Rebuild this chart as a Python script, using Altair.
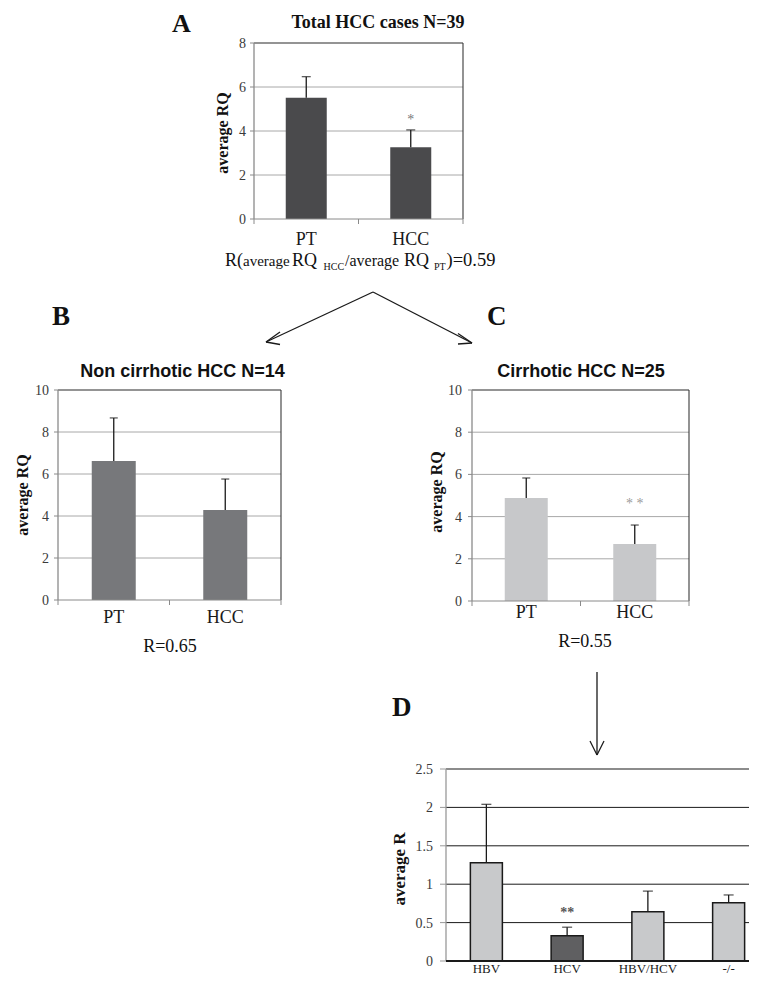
import altair as alt
import pandas as pd

# ---------------- data ----------------
a_cats = ["PT", "HCC"]
a_vals = [5.51, 3.26]
a_errs = [6.47, 4.05]
a_ticks = [0, 2, 4, 6, 8]
a_tick_labels = ["0", "2", "4", "6", "8"]

b_cats = ["PT", "HCC"]
b_vals = [6.62, 4.29]
b_errs = [8.67, 5.76]
b_ticks = [0, 2, 4, 6, 8, 10]
b_tick_labels = ["0", "2", "4", "6", "8", "10"]

c_cats = ["PT", "HCC"]
c_vals = [4.88, 2.70]
c_errs = [5.83, 3.60]
c_ticks = [0, 2, 4, 6, 8, 10]
c_tick_labels = ["0", "2", "4", "6", "8", "10"]

d_cats = ["HBV", "HCV", "HBV/HCV", "-/-"]
d_vals = [1.28, 0.33, 0.64, 0.76]
d_errs = [2.04, 0.44, 0.91, 0.86]
d_ticks = [0, 0.5, 1, 1.5, 2, 2.5]
d_tick_labels = ["0", "0.5", "1", "1.5", "2", "2.5"]

# significance marks: (category, value, text)
a_star = ("HCC", 4.5, "*")
c_star = ("HCC", 4.62, "* *")
d_star = ("HCV", 0.62, "**")

SERIF = "Liberation Serif"
SANS = "Liberation Sans"


def c(v):
    """page pixel -> canvas pixel (page has an 8px margin)"""
    return v - 8


def text_mark(txt, x, y, size, font=SERIF, weight="normal", align="left",
              color="#111111", angle=None, baseline="alphabetic"):
    kw = dict(align=align, baseline=baseline, font=font, fontSize=size,
              fontWeight=weight, color=color)
    if angle is not None:
        kw["angle"] = angle
    return alt.Chart(pd.DataFrame({"t": [txt]})).mark_text(**kw).encode(
        x=alt.value(c(x)), y=alt.value(c(y)), text="t:N")


def seg(x1, y1, x2, y2, color="#1a1a1a", w=1.3):
    return alt.Chart(pd.DataFrame({"k": [0]})).mark_rule(
        color=color, strokeWidth=w).encode(
        x=alt.value(c(x1)), y=alt.value(c(y1)),
        x2=alt.value(c(x2)), y2=alt.value(c(y2)))


def panel(cats, vals, errs, ticks, tick_labels, x0, x1, yb, yt, bar_w,
          bar_colors, label_right, xlab_base, xlab_size, star=None,
          star_color="#777777", grid_color="#a8a8a8", top_color="#2a2a2a",
          right_border=True, bar_stroke=None, axis_color="#8a8a8a",
          bottom_color="#8a8a8a", bottom_w=1.0, grid_end=None,
          boundary_ticks=True, ytick_len=4, cap_w=9, tick_size=14,
          star_size=14, star_weight="normal"):
    n = len(cats)
    ymax = ticks[-1]
    xs = alt.Scale(type="point", domain=cats, range=[c(x0), c(x1)], padding=0.5)
    ys = alt.Scale(type="linear", domain=[0, ymax], range=[c(yb), c(yt)],
                   nice=False, zero=False)
    xb = alt.Scale(type="linear", domain=[0, n], range=[c(x0), c(x1)],
                   nice=False, zero=False)
    gend = n if grid_end is None else grid_end
    layers = []

    # grid lines
    gdf = pd.DataFrame({"v": ticks[1:-1], "a": 0, "b": gend})
    layers.append(alt.Chart(gdf).mark_rule(color=grid_color, strokeWidth=1).encode(
        y=alt.Y("v:Q", scale=ys, axis=None),
        x=alt.X("a:Q", scale=xb, axis=None), x2="b:Q"))
    # top frame line
    tdf = pd.DataFrame({"v": [ymax], "a": [0], "b": [gend]})
    layers.append(alt.Chart(tdf).mark_rule(color=top_color, strokeWidth=1.1).encode(
        y=alt.Y("v:Q", scale=ys, axis=None),
        x=alt.X("a:Q", scale=xb, axis=None), x2="b:Q"))

    # bars
    df = pd.DataFrame({"cat": cats, "val": vals, "err": errs, "z": 0})
    bar_kw = dict(size=bar_w)
    if bar_stroke:
        bar_kw.update(stroke=bar_stroke, strokeWidth=1.5)
    layers.append(alt.Chart(df).mark_bar(**bar_kw).encode(
        x=alt.X("cat:N", scale=xs, axis=None),
        y=alt.Y("val:Q", scale=ys, axis=None), y2="z:Q",
        color=alt.Color("cat:N", scale=alt.Scale(domain=cats, range=bar_colors),
                        legend=None)))
    # error bars
    layers.append(alt.Chart(df).mark_rule(color="#1a1a1a", strokeWidth=1.3).encode(
        x=alt.X("cat:N", scale=xs, axis=None),
        y=alt.Y("val:Q", scale=ys, axis=None), y2="err:Q"))
    layers.append(alt.Chart(df).mark_tick(color="#1a1a1a", thickness=1.3,
                                          size=cap_w).encode(
        x=alt.X("cat:N", scale=xs, axis=None),
        y=alt.Y("err:Q", scale=ys, axis=None)))

    # left axis line
    ldf = pd.DataFrame({"a": [0], "lo": [0], "hi": [ymax]})
    layers.append(alt.Chart(ldf).mark_rule(color=axis_color, strokeWidth=1.3).encode(
        x=alt.X("a:Q", scale=xb, axis=None),
        y=alt.Y("lo:Q", scale=ys, axis=None), y2="hi:Q"))
    if right_border:
        rdf = pd.DataFrame({"a": [n], "lo": [0], "hi": [ymax]})
        layers.append(alt.Chart(rdf).mark_rule(color="#3a3a3a", strokeWidth=1.1).encode(
            x=alt.X("a:Q", scale=xb, axis=None),
            y=alt.Y("lo:Q", scale=ys, axis=None), y2="hi:Q"))
    # bottom axis
    bdf = pd.DataFrame({"v": [0], "a": [0], "b": [gend]})
    layers.append(alt.Chart(bdf).mark_rule(color=bottom_color, strokeWidth=bottom_w).encode(
        y=alt.Y("v:Q", scale=ys, axis=None),
        x=alt.X("a:Q", scale=xb, axis=None), x2="b:Q"))
    # y ticks
    ydf = pd.DataFrame({"v": ticks, "lab": tick_labels})
    layers.append(alt.Chart(ydf).mark_rule(color=axis_color, strokeWidth=1).encode(
        y=alt.Y("v:Q", scale=ys, axis=None),
        x=alt.value(c(x0) - ytick_len), x2=alt.value(c(x0))))
    # x boundary ticks
    if boundary_ticks:
        kdf = pd.DataFrame({"k": list(range(n + 1))})
        layers.append(alt.Chart(kdf).mark_rule(color=axis_color, strokeWidth=1).encode(
            x=alt.X("k:Q", scale=xb, axis=None),
            y=alt.value(c(yb)), y2=alt.value(c(yb) + 5)))
    # y tick labels
    layers.append(alt.Chart(ydf).mark_text(
        align="right", baseline="middle", dy=1, font=SERIF, fontSize=tick_size,
        color="#3a3a3a").encode(
        y=alt.Y("v:Q", scale=ys, axis=None),
        x=alt.value(c(label_right)), text="lab:N"))
    # x category labels
    layers.append(alt.Chart(df).mark_text(
        align="center", baseline="alphabetic", font=SERIF, fontSize=xlab_size,
        color="#1a1a1a").encode(
        x=alt.X("cat:N", scale=xs, axis=None),
        y=alt.value(c(xlab_base)), text="cat:N"))
    # significance mark
    if star:
        sdf = pd.DataFrame({"cat": [star[0]], "v": [star[1]], "t": [star[2]]})
        layers.append(alt.Chart(sdf).mark_text(
            align="center", baseline="middle", font=SERIF, fontSize=star_size,
            fontWeight=star_weight, color=star_color).encode(
            x=alt.X("cat:N", scale=xs, axis=None),
            y=alt.Y("v:Q", scale=ys, axis=None), text="t:N"))
    return layers


layers = []

# ---------------- Panel A ----------------
layers += panel(a_cats, a_vals, a_errs, a_ticks, a_tick_labels,
                x0=254, x1=463, yb=219, yt=43, bar_w=41,
                bar_colors=["#4a4a4c", "#4a4a4c"], label_right=246,
                xlab_base=245, xlab_size=18, star=a_star, star_color="#777777")
layers.append(text_mark("A", 172, 32, 26, weight="bold"))
layers.append(text_mark("Total HCC cases N=39", 378, 28, 18, weight="bold",
                        align="center"))
layers.append(text_mark("average RQ", 223, 133, 16, weight="bold",
                        align="center", angle=270, baseline="middle"))
# subtitle with subscripts
layers.append(text_mark("R(", 225, 266, 18))
layers.append(text_mark("average", 243, 266, 15))
layers.append(text_mark("RQ", 292, 266, 18))
layers.append(text_mark("HCC", 323.5, 270, 10))
layers.append(text_mark("/average", 345, 266, 16))
layers.append(text_mark("RQ", 404, 266, 18))
layers.append(text_mark("PT", 434, 270, 10))
layers.append(text_mark(")=0.59", 446.5, 266, 18.5))

# arrows from A to B and C
layers.append(seg(373, 292, 266, 342))
layers.append(seg(266, 342, 280, 332))
layers.append(seg(266, 342, 280, 344.5))
layers.append(seg(373, 292, 472, 343))
layers.append(seg(472, 343, 458, 333.5))
layers.append(seg(472, 343, 458, 344))

# ---------------- Panel B ----------------
layers += panel(b_cats, b_vals, b_errs, b_ticks, b_tick_labels,
                x0=58, x1=281, yb=600, yt=390, bar_w=44,
                bar_colors=["#77787b", "#77787b"], label_right=49,
                xlab_base=623, xlab_size=18, cap_w=8)
layers.append(text_mark("B", 52, 325, 27, weight="bold"))
layers.append(text_mark("Non cirrhotic HCC N=14", 182.5, 377, 18, font=SANS,
                        weight="bold", align="center"))
layers.append(text_mark("average RQ", 23, 495, 16, weight="bold",
                        align="center", angle=270, baseline="middle"))
layers.append(text_mark("R=0.65", 170, 652, 18, align="center"))

# ---------------- Panel C ----------------
layers += panel(c_cats, c_vals, c_errs, c_ticks, c_tick_labels,
                x0=472, x1=689, yb=601, yt=390, bar_w=43,
                bar_colors=["#c7c8ca", "#c7c8ca"], label_right=462,
                xlab_base=618, xlab_size=18, star=c_star, star_color="#9a9a9a",
                cap_w=8)
layers.append(text_mark("C", 487, 325, 27, weight="bold"))
layers.append(text_mark("Cirrhotic HCC N=25", 581, 377, 18, font=SANS,
                        weight="bold", align="center"))
layers.append(text_mark("average RQ", 437, 492, 16, weight="bold",
                        align="center", angle=270, baseline="middle"))
layers.append(text_mark("R=0.55", 585, 647, 18, align="center"))

# arrow from C to D
layers.append(seg(597, 672, 597, 755))
layers.append(seg(597, 755, 590, 741))
layers.append(seg(597, 755, 604, 741))

# ---------------- Panel D ----------------
layers += panel(d_cats, d_vals, d_errs, d_ticks, d_tick_labels,
                x0=446, x1=769, yb=961, yt=769, bar_w=32,
                bar_colors=["#c8c9cb", "#5f5f61", "#c8c9cb", "#c8c9cb"],
                label_right=433, xlab_base=973, xlab_size=13,
                star=d_star, star_color="#555555", grid_color="#1a1a1a",
                top_color="#1a1a1a", right_border=False, bar_stroke="#1a1a1a",
                axis_color="#999999", bottom_color="#1a1a1a", bottom_w=2,
                boundary_ticks=False, ytick_len=6, cap_w=10, star_weight="bold")
layers.append(text_mark("D", 392, 716, 27, weight="bold"))
layers.append(text_mark("average R", 400, 869, 17, weight="bold",
                        align="center", angle=270, baseline="middle"))

chart = alt.layer(*layers).resolve_scale(
    x="independent", y="independent", color="independent"
).properties(
    width=741, height=969, padding=0,
    autosize=alt.AutoSizeParams(type="none"), background="white"
).configure_view(stroke=None)

chart.save("out.html", embed_options={"renderer": "svg", "actions": False})
